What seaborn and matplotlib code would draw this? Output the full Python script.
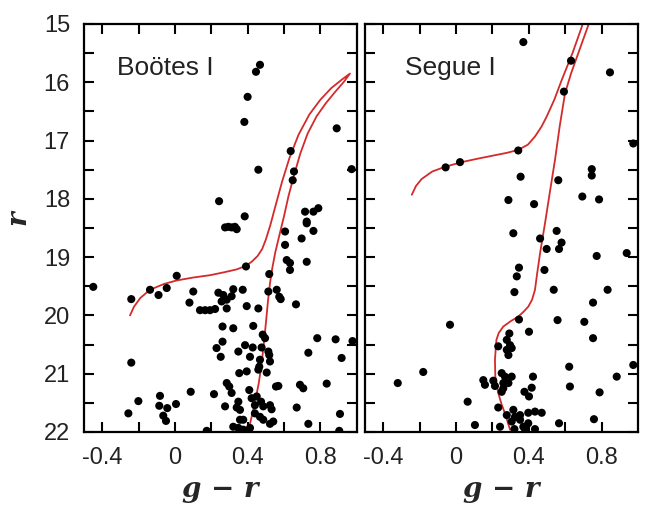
import numpy as np
import pandas as pd
import matplotlib
matplotlib.use("Agg")
import matplotlib.pyplot as plt
import seaborn as sns
from matplotlib.ticker import MultipleLocator, FixedLocator, FixedFormatter

# ---------------- data ----------------
boo_gr = [0.468, 0.446, 0.40, 0.382, 0.89, 0.637, 0.459, 0.655, 0.648, 0.972, 0.243, 0.384,
          0.716, 0.762, 0.789, 0.725, 0.294, 0.33,
          0.276, 0.312, 0.34, 0.725, 0.762, 0.606, 0.697, 0.606, 0.615, 0.633, 0.725, 0.633,
          0.391, 0.519, 0.01, -0.449, -0.137, -0.045, -0.09, -0.24, 0.101, 0.08,
          0.239, 0.266, 0.285, 0.257, 0.321, 0.312, 0.373, 0.514, 0.56, 0.574, 0.582, 0.666,
          0.395, 0.459, 0.138, 0.166, 0.193, 0.221, 0.285, 0.262, 0.321, 0.431, 0.483, 0.496,
          0.262, 0.229, 0.252, 0.386, 0.428, 0.477, 0.349, 0.413, 0.468, 0.514, 0.519, 0.523,
          0.783, 0.884, 0.977, 0.734, 0.917, -0.24, 0.354, 0.395, 0.464, 0.459, 0.505,
          0.285, 0.299, 0.312, 0.349, 0.409, 0.422, 0.45, 0.44, 0.556, 0.569, 0.688, 0.706, 0.835,
          0.087, 0.215, -0.082, -0.201, 0.006, -0.086, -0.042, -0.256, -0.064, -0.049,
          0.276, 0.34, 0.358, 0.474, 0.486, 0.523, 0.532, 0.67, 0.44, 0.468, 0.486, 0.523, 0.541,
          0.358, 0.376, 0.321, 0.349, 0.376, 0.413, 0.395, 0.908, 0.734, 0.904, 0.175]
boo_r = [15.70, 15.82, 16.25, 16.68, 16.79, 17.18, 17.50, 17.53, 17.68, 17.49, 18.04, 18.30,
         18.22, 18.22, 18.16, 18.39, 18.48, 18.48,
         18.49, 18.49, 18.52, 18.42, 18.55, 18.56, 18.68, 18.79, 19.05, 19.10, 19.08, 19.22,
         19.16, 19.29, 19.32, 19.51, 19.56, 19.53, 19.65, 19.72, 19.59, 19.78,
         19.61, 19.65, 19.73, 19.76, 19.55, 19.67, 19.56, 19.59, 19.56, 19.68, 19.72, 19.81,
         19.84, 19.88, 19.91, 19.91, 19.91, 19.89, 19.88, 20.19, 20.22, 20.18, 20.33, 20.39,
         20.45, 20.56, 20.71, 20.51, 20.55, 20.55, 20.62, 20.71, 20.76, 20.62, 20.68, 20.79,
         20.39, 20.41, 20.44, 20.64, 20.73, 20.81, 20.99, 20.96, 20.88, 20.93, 20.98,
         21.16, 21.22, 21.33, 21.48, 21.28, 21.42, 21.39, 21.54, 21.22, 21.21, 21.19, 21.25, 21.17,
         21.31, 21.35, 21.38, 21.47, 21.52, 21.55, 21.59, 21.68, 21.72, 21.81,
         21.56, 21.58, 21.62, 21.48, 21.56, 21.54, 21.61, 21.58, 21.68, 21.74, 21.79, 21.86, 21.82,
         21.79, 21.79, 21.91, 21.93, 21.96, 21.93, 21.99, 21.69, 21.86, 21.98, 21.98]

seg_gr = [0.37, 0.632, 0.846, 0.593, 0.974, -0.057, 0.022, 0.342, 0.355, 0.562, 0.746, 0.746,
          0.288, 0.429, 0.694, 0.786,
          0.315, 0.462, 0.553, 0.58, 0.498, 0.566, 0.773, 0.938, 0.346, 0.334, 0.486, 0.321,
          0.537, 0.833, 0.753, 0.346, 0.558, 0.705, -0.033, 0.401,
          0.293, 0.279, 0.232, 0.297, 0.279, 0.306, 0.288, 0.753, 0.622, 0.974, -0.18, -0.32, 0.883,
          0.15, 0.159, 0.205, 0.214, 0.251, 0.269, 0.306, 0.26, 0.288, 0.251, 0.26,
          0.423, 0.416, 0.376, 0.401, 0.626, 0.789, 0.064, 0.232,
          0.315, 0.279, 0.324, 0.352, 0.397, 0.434, 0.471,
          0.306, 0.352, 0.397, 0.37, 0.434, 0.379, 0.321, 0.566, 0.758, 0.104, 0.242]
seg_r = [15.31, 15.63, 15.83, 16.16, 17.05, 17.46, 17.37, 17.17, 17.62, 17.68, 17.49, 17.60,
         18.02, 18.09, 17.96, 18.01,
         18.59, 18.68, 18.55, 18.75, 18.86, 18.86, 18.98, 18.93, 19.18, 19.33, 19.22, 19.60,
         19.56, 19.56, 19.78, 20.07, 20.08, 20.11, 20.16, 20.28,
         20.31, 20.42, 20.53, 20.51, 20.59, 20.56, 20.68, 20.39, 20.88, 20.85, 20.97, 21.16, 21.05,
         21.11, 21.19, 21.12, 21.21, 20.99, 21.05, 21.05, 21.16, 21.16, 21.31, 21.25,
         21.05, 21.24, 21.31, 21.39, 21.22, 21.32, 21.48, 21.58,
         21.62, 21.71, 21.74, 21.71, 21.67, 21.65, 21.67,
         21.82, 21.79, 21.85, 21.91, 21.95, 21.95, 21.95, 21.85, 21.78, 21.88, 21.91]

# isochrone tracks (HB/AGB branch up to the tip, then RGB down to the main sequence)
boo_iso_gr = [-0.247, -0.225, -0.19, -0.137, -0.06, 0.01, 0.10, 0.193, 0.27, 0.34, 0.39, 0.422,
              0.455, 0.48, 0.50, 0.525, 0.555, 0.59, 0.63, 0.68, 0.74, 0.80, 0.86, 0.92, 0.963,
              0.93, 0.88, 0.83, 0.78, 0.73, 0.69, 0.655, 0.625, 0.60, 0.575, 0.552, 0.535,
              0.523, 0.512, 0.503, 0.492, 0.478, 0.462, 0.44, 0.404]
boo_iso_r = [20.0, 19.85, 19.70, 19.56, 19.46, 19.40, 19.35, 19.31, 19.26, 19.21, 19.15, 19.08,
             18.98, 18.86, 18.70, 18.45, 18.10, 17.70, 17.30, 16.90, 16.55, 16.30, 16.10, 15.95, 15.85,
             15.99, 16.17, 16.36, 16.58, 16.88, 17.22, 17.60, 17.95, 18.30, 18.62, 18.92, 19.20,
             19.45, 19.75, 20.05, 20.40, 20.80, 21.15, 21.50, 21.98]

seg_hb_gr = [-0.243, -0.22, -0.189, -0.13, -0.06, 0.031, 0.12, 0.2, 0.28, 0.342, 0.395, 0.434,
             0.47, 0.498, 0.54, 0.581, 0.64, 0.691, 0.70]
seg_hb_r = [17.93, 17.78, 17.66, 17.53, 17.45, 17.37, 17.31, 17.26, 17.21, 17.16, 17.07, 16.93,
            16.76, 16.59, 16.30, 15.96, 15.50, 15.05, 14.95]
seg_rgb_gr = [0.735, 0.727, 0.672, 0.632, 0.599, 0.57, 0.544, 0.515, 0.489, 0.462, 0.445, 0.434,
              0.418, 0.397, 0.37, 0.342, 0.30, 0.26, 0.235, 0.222, 0.214, 0.216, 0.232, 0.25,
              0.269, 0.297]
seg_rgb_r = [14.95, 15.02, 15.50, 15.85, 16.19, 16.75, 17.33, 17.90, 18.42, 18.93, 19.30, 19.56,
             19.73, 19.85, 19.94, 20.02, 20.10, 20.19, 20.30, 20.42, 20.76, 21.05, 21.33, 21.52,
             21.68, 21.96]

x_ticks = [-0.4, 0, 0.4, 0.8]
x_tick_labels = ["-0.4", "0", "0.4", "0.8"]
y_ticks = [15, 16, 17, 18, 19, 20, 21, 22]
titles = ["Boötes I", "Segue I"]

# ---------------- figure ----------------
sns.set_style("white")
plt.rcParams["font.family"] = ["Liberation Sans", "DejaVu Sans"]

fig = plt.figure(figsize=(6.55, 5.07), dpi=100)
axL = fig.add_axes([84/655, 75/507, 272.7/655, 408/507])
axR = fig.add_axes([365/655, 75/507, 273/655, 408/507])

red = "#d42a2a"

boo_df = pd.DataFrame({"gr": boo_gr, "r": boo_r})
seg_df = pd.DataFrame({"gr": seg_gr, "r": seg_r})
boo_iso = pd.DataFrame({"gr": boo_iso_gr, "r": boo_iso_r})
seg_iso = pd.concat([
    pd.DataFrame({"gr": seg_hb_gr, "r": seg_hb_r, "b": "hb"}),
    pd.DataFrame({"gr": seg_rgb_gr, "r": seg_rgb_r, "b": "rgb"}),
])

sns.lineplot(data=boo_iso, x="gr", y="r", sort=False, estimator=None, color=red, lw=1.3, ax=axL)
sns.lineplot(data=seg_iso, x="gr", y="r", units="b", sort=False, estimator=None, color=red,
             lw=1.3, ax=axR)
sns.scatterplot(data=boo_df, x="gr", y="r", color="black", s=34, edgecolor="none", ax=axL, zorder=3)
sns.scatterplot(data=seg_df, x="gr", y="r", color="black", s=34, edgecolor="none", ax=axR, zorder=3)

for i, ax in enumerate([axL, axR]):
    ax.set_xlim(-0.5, 1.0)
    ax.set_ylim(22, 15)
    ax.set_xlabel("")
    ax.set_ylabel("")
    ax.xaxis.set_major_locator(FixedLocator(x_ticks))
    ax.xaxis.set_major_formatter(FixedFormatter(x_tick_labels))
    ax.xaxis.set_minor_locator(FixedLocator([-0.2, 0.2, 0.6]))
    ax.yaxis.set_major_locator(FixedLocator(y_ticks))
    ax.yaxis.set_minor_locator(MultipleLocator(0.5))
    ax.tick_params(which="both", direction="in", top=True, right=True, bottom=True, left=True,
                   length=7, width=1.5, color="black")
    ax.tick_params(axis="x", which="major", labelsize=17, pad=11, labelcolor="#222222")
    ax.tick_params(axis="y", which="major", labelsize=17, pad=10, labelcolor="#222222")
    for sp in ax.spines.values():
        sp.set_visible(True)
        sp.set_linewidth(1.6)
        sp.set_color("black")
    ax.text(0.121 if i == 0 else 0.147, 0.893, titles[i], transform=ax.transAxes,
            fontsize=19, va="center", ha="left", color="#222222")

axR.tick_params(axis="y", labelleft=False)

for cx in [220/655, 501/655]:
    fig.text(cx, 0.035, "g − r", ha="center", va="center", fontsize=20,
             family="DejaVu Serif", style="italic", weight="bold")
fig.text(18/655, 1 - 218/507, "r", ha="center", va="center", fontsize=20, rotation=90,
         family="DejaVu Serif", style="italic", weight="bold")

fig.savefig("out.png", dpi=100)
